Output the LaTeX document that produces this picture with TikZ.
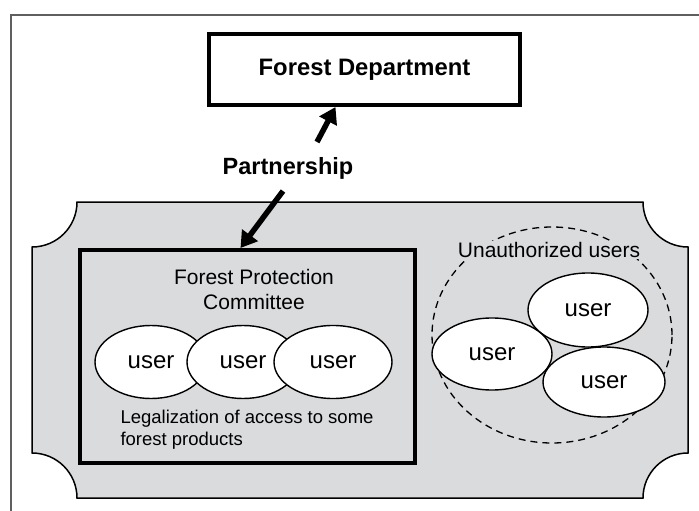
\documentclass[tikz,border=0pt]{standalone}
\usepackage{fontspec}
\setmainfont{Liberation Sans}
\usetikzlibrary{arrows.meta,shapes.geometric}
\definecolor{zonegray}{RGB}{218,219,221}
\definecolor{framegray}{RGB}{95,95,95}
\tikzset{
  boldbox/.style  = {draw,line width=4pt,inner sep=0pt},
  userell/.style  = {ellipse,draw,fill=white,line width=1.4pt,inner sep=0pt,
                     font=\fontsize{24}{28}\selectfont},
  bigarr/.style   = {-{Triangle[length=16pt,width=19pt]},line width=5.5pt},
  dashring/.style = {ellipse,draw,dash pattern=on 7pt off 5pt,line width=1.3pt}
}
\begin{document}
\begin{tikzpicture}[x=1pt,y=-1pt]
  \useasboundingbox (0,0) rectangle (699,511);
  \draw[framegray,line width=1.2pt] (699,15) -- (11,15) -- (11,511);
  \draw[fill=zonegray,line width=1.5pt]
    (77,202) -- (643,202) arc[start angle=180,end angle=270,radius=45pt]
    -- (688,453) arc[start angle=90,end angle=180,radius=45pt]
    -- (77,498) arc[start angle=0,end angle=90,radius=45pt]
    -- (32,247) arc[start angle=270,end angle=360,radius=45pt] -- cycle;
  \node[boldbox,fill=white,minimum width=311pt,minimum height=71pt,
        font=\bfseries\fontsize{23.8}{28}\selectfont] (fd) at (364.5,69.5) {Forest Department};
  \node[font=\bfseries\fontsize{23.5}{27}\selectfont] (pship) at (288,168) {Partnership};
  \node[boldbox,fill=zonegray,minimum width=335pt,minimum height=213pt] (fpc) at (247.5,356.5) {};
  \node[align=center,font=\fontsize{21}{25}\selectfont] (fpcname) at (254,289.5) {Forest Protection\\Committee};
  \node[userell,minimum width=112pt,minimum height=73pt] (u1) at (151,362) {user};
  \node[userell,minimum width=112pt,minimum height=73pt] (u2) at (243,362) {user};
  \node[userell,minimum width=118pt,minimum height=73pt] (u3) at (333,362) {user};
  \node[anchor=west,align=left,font=\fontsize{18.5}{22}\selectfont] (legal) at (117,430)
    {Legalization of access to some\\forest products};
  \coordinate (uptail) at (317,142);
  \coordinate (dntail) at (283,191);
  \draw[bigarr] (uptail) -- ([xshift=-29pt]fd.south);
  \draw[bigarr] (dntail) -- ([xshift=-7pt]fpc.north);
  \node[dashring,minimum width=240pt,minimum height=216pt] (unauth) at (552,335) {};
  \node[fill=zonegray,inner sep=1pt,font=\fontsize{21}{25}\selectfont] (unauthlbl) at (549,250) {Unauthorized users};
  \node[userell,minimum width=120pt,minimum height=74pt] (ua) at (588,310) {user};
  \node[userell,minimum width=122pt,minimum height=70pt] (ub) at (604,382) {user};
  \node[userell,minimum width=120pt,minimum height=72pt] (uc) at (492,354) {user};
\end{tikzpicture}
\end{document}
